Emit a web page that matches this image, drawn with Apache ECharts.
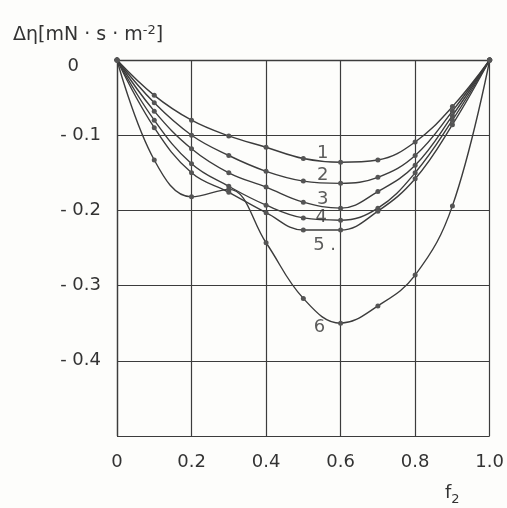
<!DOCTYPE html>
<html>
<head>
<meta charset="utf-8">
<script src="https://cdn.jsdelivr.net/npm/echarts@6/dist/echarts.min.js"></script>
<style>
  html, body { margin: 0; padding: 0; background: #fdfdfb; }
  #chart { width: 507px; height: 508px; }
</style>
</head>
<body>
<div id="chart"></div>
<script>
// mole fraction f2
var fValues = [0, 0.1, 0.2, 0.3, 0.4, 0.5, 0.6, 0.7, 0.8, 0.9, 1.0];

// viscosity deviation curves 1..6
var curve1 = [0, -0.047, -0.080, -0.101, -0.116, -0.131, -0.136, -0.133, -0.109, -0.062, 0];
var curve2 = [0, -0.057, -0.100, -0.127, -0.148, -0.161, -0.164, -0.156, -0.127, -0.068, 0];
var curve3 = [0, -0.068, -0.118, -0.150, -0.169, -0.189, -0.197, -0.175, -0.140, -0.074, 0];
var curve4 = [0, -0.080, -0.138, -0.168, -0.193, -0.210, -0.213, -0.197, -0.150, -0.080, 0];
var curve5 = [0, -0.090, -0.150, -0.176, -0.203, -0.226, -0.226, -0.201, -0.158, -0.086, 0];
var curve6 = [0, -0.133, -0.182, -0.172, -0.243, -0.317, -0.350, -0.327, -0.286, -0.194, 0];

// curve number labels (f2, value)
var curveNames = ['1', '2', '3', '4', '5 .', '6'];
var labelF = [0.552, 0.552, 0.552, 0.548, 0.557, 0.543];
var labelV = [-0.124, -0.154, -0.185, -0.209, -0.246, -0.355];

// tick labels
var xTicks = { 0: '0', 0.2: '0.2', 0.4: '0.4', 0.6: '0.6', 0.8: '0.8', 1: '1.0' };
var yTicks = { 0: '{zero|0}', '-0.1': '- 0.1', '-0.2': '- 0.2', '-0.3': '- 0.3', '-0.4': '- 0.4' };

var ink = '#3c3c3c';
var curves = [curve1, curve2, curve3, curve4, curve5, curve6];

function pairs(vals) {
    return fValues.map(function(f, i) { return [f, vals[i]]; });
}

var series = curves.map(function(vals) {
    return {
        type: 'line',
        data: pairs(vals),
        smooth: 0.4,
        symbol: 'circle',
        symbolSize: 5,
        itemStyle: { color: '#555' },
        lineStyle: { color: ink, width: 1.4 },
        z: 3
    };
});

series.push({
    type: 'scatter',
    symbolSize: 0,
    data: curveNames.map(function(n, i) { return { value: [labelF[i], labelV[i]], name: n }; }),
    label: {
        show: true,
        position: 'inside',
        formatter: function(p) { return p.name; },
        color: '#333',
        fontSize: 18,
        fontFamily: 'DejaVu Sans'
    },
    z: 4
});

var myChart = echarts.init(document.getElementById('chart'));

var option = {
    backgroundColor: '#fdfdfb',
    animation: false,
    title: [{
        text: 'Δη[mN · s · m{sup|-2}]',
        left: 8,
        top: 19,
        textStyle: {
            color: '#333',
            fontSize: 19,
            fontWeight: 'normal',
            fontFamily: 'DejaVu Sans',
            rich: {
                sup: { fontSize: 13, verticalAlign: 'top', padding: [0, 0, 9, 0], color: '#333' }
            }
        }
    }, {
        text: 'f{sub|2}',
        left: 440,
        top: 476,
        textStyle: {
            color: '#333',
            fontSize: 18,
            fontWeight: 'normal',
            fontFamily: 'DejaVu Sans',
            rich: {
                sub: { fontSize: 13, padding: [12, 0, 0, 0], color: '#333' }
            }
        }
    }],
    grid: {
        left: 117,
        right: 15,
        top: 60,
        bottom: 72
    },
    xAxis: {
        type: 'value',
        min: 0,
        max: 1,
        interval: 0.2,
        axisLine: { show: true, lineStyle: { color: ink, width: 1.3 } },
        axisTick: { show: false },
        splitLine: { show: true, lineStyle: { color: ink, width: 1.2 } },
        axisLabel: {
            margin: 17,
            color: '#333',
            fontSize: 18,
            fontFamily: 'DejaVu Sans',
            formatter: function(v) { return xTicks[Math.round(v * 10) / 10] || ''; }
        }
    },
    yAxis: {
        type: 'value',
        min: -0.5,
        max: 0,
        interval: 0.1,
        axisLine: { show: true, lineStyle: { color: ink, width: 1.3 } },
        axisTick: { show: false },
        splitLine: { show: true, lineStyle: { color: ink, width: 1.2 } },
        axisLabel: {
            margin: 16,
            color: '#333',
            fontSize: 18,
            fontFamily: 'DejaVu Sans',
            rich: {
                zero: { fontSize: 18, color: '#333', padding: [12, 22, 0, 0] }
            },
            formatter: function(v) {
                var k = String(Math.round(v * 10) / 10);
                return yTicks[k] || '';
            }
        }
    },
    series: series
};

myChart.setOption(option);
</script>
</body>
</html>
